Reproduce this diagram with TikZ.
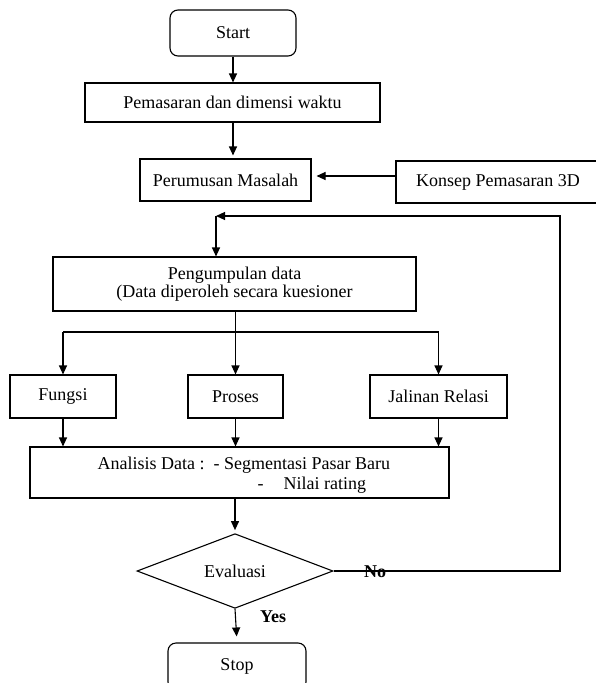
\documentclass[tikz,border=0pt]{standalone}
\usepackage{fontspec}
\setmainfont{Liberation Serif}
\usetikzlibrary{shapes.geometric,arrows.meta}
\begin{document}
\begin{tikzpicture}[x=1pt,y=-1pt,line width=1.1pt,
        font=\fontsize{18}{18}\selectfont,
        box/.style={draw,rectangle,inner sep=0pt,align=center},
        term/.style={box,rounded corners=8pt},
        decide/.style={draw,diamond,inner sep=0pt,minimum width=196pt,minimum height=72pt},
        lbl/.style={font=\fontsize{18}{18}\selectfont\bfseries,inner sep=0pt},
        arr/.style={-{Triangle[length=9pt,width=8pt]}}]
        \useasboundingbox (0,0) rectangle (595,683);

        % Top part of the flow
        \node[term,minimum width=126pt,minimum height=46pt] (start) at (233,33) {Start};
        \node[box,minimum width=295pt,minimum height=39pt] (pemasaran) at (232.5,102.5) {Pemasaran dan dimensi waktu};
        \node[box,minimum width=171pt,minimum height=42pt] (perumusan) at (225.5,180) {Perumusan Masalah};
        \node[box,minimum width=204pt,minimum height=42pt] (konsep) at (498,182) {Konsep Pemasaran 3D};
        \node[box,minimum width=363pt,minimum height=54pt] (pengumpulan) at (234.5,284) {Pengumpulan data\\(Data diperoleh secara kuesioner};

        % The three aspects
        \node[box,minimum width=106pt,minimum height=43pt] (fungsi) at (63,396.5) {Fungsi};
        \node[box,minimum width=95pt,minimum height=43pt] (proses) at (235.5,396.5) {Proses};
        \node[box,minimum width=137pt,minimum height=43pt] (jalinan) at (438.5,396.5) {Jalinan Relasi};

        % Analysis box, its two text lines set apart
        \node[box,minimum width=419pt,minimum height=51pt] (analisis) at (239.5,472.5) {};
        \node[anchor=west,inner sep=0pt] (anl1) at (97,465) {Analisis Data :\ \ - Segmentasi Pasar Baru};
        \node[anchor=west,inner sep=0pt] (anl2) at (257,485) {-\hspace{20pt}Nilai rating};

        \node[decide] (evaluasi) at (235,571) {Evaluasi};
        \node[term,minimum width=138pt,minimum height=47pt] (stop) at (237,666.5) {Stop};

        \coordinate (fbr) at (560,216);
        \coordinate (fbl) at (216,216);
        \coordinate (br) at (235,332);

        % Connectors
        \draw[arr] (start.south) -- (start.south |- pemasaran.north);
        \draw[arr,shorten >=3pt] (pemasaran.south -| start.south) -- (start.south |- perumusan.north);
        \draw[arr,shorten >=5pt] ([yshift=6pt]konsep.west) -- ([yshift=6pt]konsep.west -| perumusan.east);
        \draw[arr] (fbl) -- (fbl |- pengumpulan.north);
        \draw[arr] (pengumpulan.south -| proses) -- (proses.north);
        \draw (fungsi.north |- br) -- (jalinan.north |- br);
        \draw[arr] (fungsi.north |- br) -- (fungsi.north);
        \draw[arr] (jalinan.north |- br) -- (jalinan.north);
        \foreach \n in {fungsi,proses,jalinan}
            \draw[arr] (\n.south) -- (\n.south |- analisis.north);
        \draw[arr,shorten >=3pt] (analisis.south -| evaluasi) -- (evaluasi.north);
        \draw[arr,shorten >=6pt] (evaluasi.south) -- (stop.north);
        \draw[arr] (evaluasi.east) -- (fbr |- evaluasi.east) -- (fbr) -- (fbl); % back to data collection

        \node[lbl] (no) at (375,572) {No};
        \node[lbl] (yes) at (273,617) {Yes};
    \end{tikzpicture}
\end{document}
